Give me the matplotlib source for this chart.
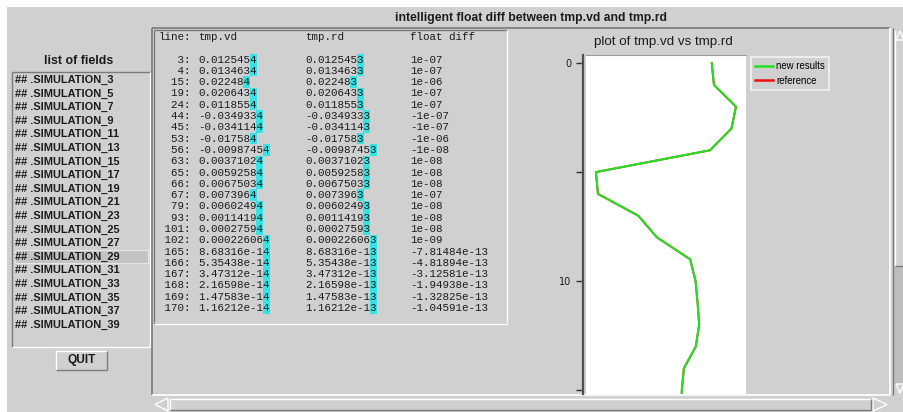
import numpy as np
import matplotlib.pyplot as plt
from matplotlib.patches import Rectangle, Polygon

# data shown in the diff window
fields = ["SIMULATION_3", "SIMULATION_5", "SIMULATION_7", "SIMULATION_9",
          "SIMULATION_11", "SIMULATION_13", "SIMULATION_15", "SIMULATION_17",
          "SIMULATION_19", "SIMULATION_21", "SIMULATION_23", "SIMULATION_25",
          "SIMULATION_27", "SIMULATION_29", "SIMULATION_31", "SIMULATION_33",
          "SIMULATION_35", "SIMULATION_37", "SIMULATION_39"]
selected = "SIMULATION_29"

line_no = [3, 4, 15, 19, 24, 44, 45, 53, 56, 63, 65, 66, 67, 79, 93, 101, 102,
           165, 166, 167, 168, 169, 170]
tmp_vd = ["0.0125454", "0.0134634", "0.022484", "0.0206434", "0.0118554",
          "-0.0349334", "-0.0341144", "-0.017584", "-0.00987454", "0.00371024",
          "0.00592584", "0.00675034", "0.0073964", "0.00602494", "0.00114194",
          "0.00027594", "0.000226064", "8.68316e-14", "5.35438e-14",
          "3.47312e-14", "2.16598e-14", "1.47583e-14", "1.16212e-14"]
tmp_rd = ["0.0125453", "0.0134633", "0.022483", "0.0206433", "0.0118553",
          "-0.0349333", "-0.0341143", "-0.017583", "-0.00987453", "0.00371023",
          "0.00592583", "0.00675033", "0.0073963", "0.00602493", "0.00114193",
          "0.00027593", "0.000226063", "8.68316e-13", "5.35438e-13",
          "3.47312e-13", "2.16598e-13", "1.47583e-13", "1.16212e-13"]
float_diff = ["1e-07", "1e-07", "1e-06", "1e-07", "1e-07", "-1e-07", "-1e-07",
              "-1e-06", "-1e-08", "1e-08", "1e-08", "1e-08", "1e-07", "1e-08",
              "1e-08", "1e-08", "1e-09", "-7.81484e-13", "-4.81894e-13",
              "-3.12581e-13", "-1.94938e-13", "-1.32825e-13", "-1.04591e-13"]

W, H = 904, 412
BG = '#d0d0d0'
DARK = '#7a7a7a'
INK = '#1c1c1c'
SANS = 'Liberation Sans'
MONO = 'Liberation Mono'

fig = plt.figure(figsize=(W / 100, H / 100), dpi=100)
fig.patch.set_facecolor(BG)

# full-window axes in pixel coordinates for the widgets
gui = fig.add_axes([0, 0, 1, 1])
gui.set_xlim(0, W)
gui.set_ylim(H, 0)
gui.axis('off')


def hline(x0, x1, y, c, lw=1.0):
    gui.plot([x0, x1], [y, y], color=c, lw=lw, solid_capstyle='butt')


def vline(x, y0, y1, c, lw=1.0):
    gui.plot([x, x], [y0, y1], color=c, lw=lw, solid_capstyle='butt')


def sunken(x0, y0, x1, y1):
    hline(x0, x1, y0, DARK)
    vline(x0, y0, y1, DARK)
    hline(x0, x1, y1, 'white')
    vline(x1, y0, y1, 'white')


def raised(x0, y0, x1, y1):
    hline(x0, x1, y0, 'white')
    vline(x0, y0, y1, 'white')
    hline(x0, x1, y1, DARK)
    vline(x1, y0, y1, DARK)


# screenshot edge
gui.add_patch(Rectangle((0, 0), W, 7, color='white', lw=0))
gui.add_patch(Rectangle((0, 0), 7, H, color='white', lw=0))

gui.text(531, 18, "intelligent float diff between tmp.vd and tmp.rd",
         ha='center', va='center', fontsize=8.7, fontweight='bold',
         family=SANS, color=INK)

# left panel: list of fields
gui.text(79, 61, "list of fields", ha='center', va='center', fontsize=8.9,
         fontweight='bold', family=SANS, color=INK)
sunken(12, 72, 150, 347)
for i, f in enumerate(fields):
    y = 80 + i * 13.6
    if f == selected:
        gui.add_patch(Rectangle((15, y - 6.5), 133, 13, facecolor='#c3c3c3',
                                edgecolor='#e6e6e6', lw=0.8))
    gui.text(15, y, "## ." + f, va='center', fontsize=7.9, fontweight='bold',
             family=SANS, color=INK)

raised(56, 351, 107, 370)
gui.text(81.5, 360.5, "QUIT", ha='center', va='center', fontsize=8.6,
         fontweight='bold', family=SANS, color=INK)

# outer frame of the right part
hline(152, 890, 28, DARK, 1.2)
vline(152, 28, 395, DARK, 1.2)
hline(152, 890, 395, 'white', 1.2)
vline(890, 28, 395, 'white', 1.2)

# table frame
sunken(154, 30, 507, 324)
hline(154, 507, 322, BG)

# table text
cw = 6.5
fs_mono = 7.8
row_y0, row_dy = 59.5, 11.3
col_x = [158.5, 198, 305, 410.5]
gui.text(col_x[0], 37, "line:", va='center', fontsize=fs_mono, family=MONO, color=INK)
gui.text(col_x[1], 37, "tmp.vd", va='center', fontsize=fs_mono, family=MONO, color=INK)
gui.text(col_x[2], 37, "tmp.rd", va='center', fontsize=fs_mono, family=MONO, color=INK)
gui.text(col_x[3], 37, "float diff", va='center', fontsize=fs_mono, family=MONO, color=INK)
for i, ln in enumerate(line_no):
    y = row_y0 + i * row_dy
    gui.text(col_x[0], y, f"{ln:>4}:", va='center', fontsize=fs_mono,
             family=MONO, color=INK)
    for x, s in ((col_x[1], tmp_vd[i]), (col_x[2], tmp_rd[i])):
        gui.add_patch(Rectangle((x + (len(s) - 1) * cw - 0.3, y - row_dy / 2),
                                cw + 0.6, row_dy, color='#33e3e6', lw=0))
        gui.text(x, y, s, va='center', fontsize=fs_mono, family=MONO, color=INK)
    gui.text(col_x[3], y, float_diff[i], va='center', fontsize=fs_mono,
             family=MONO, color=INK)

# vertical scrollbar
gui.add_patch(Rectangle((893, 266), 11, 118, color='#bdbdbd', lw=0))
vline(893.5, 28, 395, DARK)
vline(895, 30, 266, 'white')
hline(895, 904, 266, DARK)
gui.add_patch(Polygon([[896, 40], [900, 31], [904, 40]], closed=True,
                      facecolor='none', edgecolor='white', lw=1))
gui.add_patch(Polygon([[896, 384], [900, 393], [904, 384]], closed=True,
                      facecolor='none', edgecolor='white', lw=1))

# horizontal scrollbar
raised(170, 399, 871, 410)
gui.add_patch(Polygon([[168, 398], [155, 404.5], [168, 411]], closed=True,
                      facecolor='none', edgecolor='white', lw=1))
gui.add_patch(Polygon([[873, 398], [887, 404.5], [873, 411]], closed=True,
                      facecolor='none', edgecolor='white', lw=1))

# plot of tmp.vd vs tmp.rd
gui.text(663, 42, "plot of tmp.vd vs tmp.rd", ha='center', va='center',
         fontsize=9.6, family=SANS, color=INK)

vd_vals = np.array([float(s) for s in tmp_vd])
rd_vals = np.array([float(s) for s in tmp_rd])
idx = np.arange(len(vd_vals))

ax = fig.add_axes([586 / W, 1 - 394 / H, 160 / W, 339 / H])
ax.set_facecolor('white')
ax.plot(rd_vals, idx, color='#ee1010', lw=1.4, label='reference', zorder=2)
ax.plot(vd_vals, idx, color='#22e022', lw=1.5, label='new results', zorder=3)
ax.set_xlim(-0.039, 0.0266)
ax.set_ylim(15.18, -0.37)
ax.set_xticks([])
ax.set_yticks([0, 10])
ax.set_yticks([5, 15], minor=True)
ax.tick_params(axis='y', which='both', length=5, width=1, color='#303030',
               labelsize=7, pad=3, labelcolor=INK)
ax.spines['left'].set_position(('outward', 2.5))
ax.spines['left'].set_color('#505050')
ax.spines['left'].set_linewidth(1.6)
ax.spines['top'].set_color('#9a9a9a')
ax.spines['right'].set_visible(False)
ax.spines['bottom'].set_visible(False)

h, l = ax.get_legend_handles_labels()
leg = ax.legend(h[::-1], l[::-1], loc='upper left', bbox_to_anchor=(1.03, 0.994),
                borderaxespad=0, frameon=True, fancybox=False,
                handlelength=1.9, handletextpad=0.3, borderpad=0.45,
                labelspacing=0.45, prop={'family': SANS, 'size': 6.9})
leg.get_frame().set_facecolor(BG)
leg.get_frame().set_edgecolor('#f4f4f4')
leg.get_frame().set_linewidth(1.5)
for line in leg.get_lines():
    line.set_linewidth(1.8)

fig.savefig('out.png', dpi=100, facecolor=BG)
